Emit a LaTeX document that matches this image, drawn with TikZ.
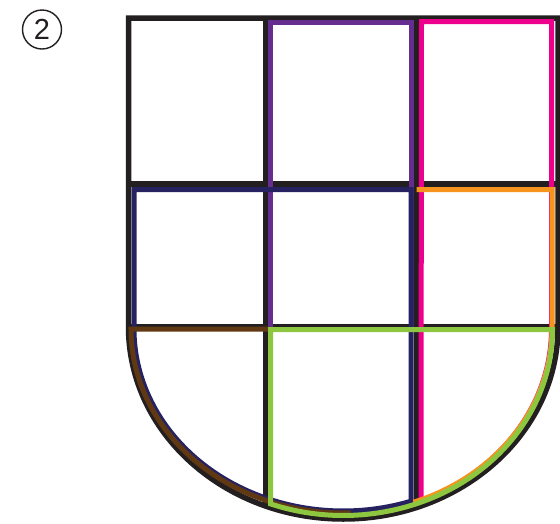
\documentclass[tikz,border=0pt]{standalone}
\usepackage{fontspec}
\setmainfont{Liberation Sans}
\definecolor{sblack}{HTML}{231F20}
\definecolor{spurple}{HTML}{662D91}
\definecolor{spink}{HTML}{EC008C}
\definecolor{snavy}{HTML}{262262}
\definecolor{sbrown}{HTML}{603913}
\definecolor{sorange}{HTML}{F7941D}
\definecolor{sgreen}{HTML}{8DC63F}
\tikzset{
  frame/.style={draw=sblack, line width=5.5pt, line join=miter},
  overlay/.style={line width=5pt, line join=miter},
  numcircle/.style={circle, draw=sblack, line width=1.4pt, minimum size=39pt, inner sep=0pt,
    text=sblack, font=\fontsize{29}{29}\selectfont}
}
\begin{document}
\begin{tikzpicture}[x=1pt,y=-1pt]
\useasboundingbox (0,0) rectangle (560,523);
% number
\node[numcircle] (num) at (42,29.5) {2};
% black shield and grid
\draw[frame] (128.5,18) -- (558,18) -- (558,327)
  arc[start angle=0, end angle=180, x radius=214.75, y radius=192] -- cycle;
\draw[frame] (128.5,184) -- (558,184);
\draw[frame] (128.5,327) -- (558,327);
\draw[frame] (265.5,18) -- (265.5,506);
\draw[frame] (416.8,18) -- (416.8,507.4);
% pink: right column
\draw[overlay, draw=spink] (421.5,21.5) -- (551.5,21.5) -- (551.5,329)
  arc[start angle=0, end angle={acos(77.75/208.25)}, x radius=208.25, y radius=185] -- cycle;
% purple: middle column, upper two rows
\draw[overlay, draw=spurple] (270.5,22.5) rectangle (411,329.5);
% navy: left two columns, lower rows
\draw[overlay, draw=snavy] (411,189.5) -- (134,189.5) -- (134,329)
  arc[start angle=180, end angle={acos(67.75/209.25)}, x radius=209.25, y radius=182] -- cycle;
% brown: bottom-left
\draw[overlay, draw=sbrown] (270.5,329) -- (131,329)
  arc[start angle=180, end angle=88, x radius=212.25, y radius=184];
% orange: right column, lower rows (left side hidden)
\draw[overlay, draw=sorange] (416.5,189.5) -- (552,189.5) -- (552,329)
  arc[start angle=0, end angle={acos(70.25/208.75)}, x radius=208.75, y radius=184];
% green: bottom right two columns
\draw[overlay, draw=sgreen] (270.5,329.5) -- (552.5,329.5)
  arc[start angle=0, end angle={acos(-72.75/209.25)}, x radius=209.25, y radius=186] -- cycle;
\end{tikzpicture}
\end{document}
